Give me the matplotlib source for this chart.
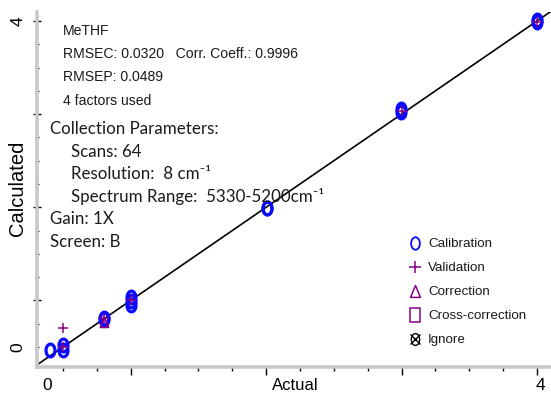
import matplotlib
matplotlib.use('Agg')
import matplotlib.pyplot as plt
from matplotlib import font_manager
from matplotlib.path import Path
from matplotlib.transforms import Affine2D
from matplotlib.lines import Line2D

# ---------------- data ----------------
cal_actual = [-0.11, 0.0, 0.0, 0.35, 0.35, 0.574, 0.574, 0.574, 1.72, 1.72, 2.85, 2.85, 4.0, 4.0]
cal_calc = [-0.04, 0.02, -0.04, 0.36, 0.34, 0.61, 0.57, 0.52, 1.71, 1.70, 2.92, 2.88, 4.01, 3.99]
val_actual = [0.0, 0.0, 0.35, 0.574, 2.86, 4.0]
val_calc = [0.23, 0.0, 0.36, 0.58, 2.89, 3.99]
corr_actual = [0.35]
corr_calc = [0.31]

major_ticks = [4 / 7, 12 / 7, 20 / 7, 4.0]
minor_ticks = [k * 2 / 7 for k in range(15) if k not in (2, 6, 10, 14)]

x_tick_labels = ["0", "4"]
y_tick_labels = ["0", "4"]
x_label = "Actual"
y_label = "Calculated"

info_lines = ["MeTHF", "RMSEC: 0.0320   Corr. Coeff.: 0.9996", "RMSEP: 0.0489", "4 factors used"]
param_lines = [("Collection Parameters:", 0), ("Scans: 64", 1), ("Resolution:  8 cm\u207b\u00b9", 1),
               ("Spectrum Range:  5330-5200cm\u207b\u00b9", 1), ("Gain: 1X", 0), ("Screen: B", 0)]
legend_labels = ["Calibration", "Validation", "Correction", "Cross-correction", "Ignore"]

BLUE = "#0a0aff"
PURPLE = "#880088"

names = {f.name for f in font_manager.fontManager.ttflist}
if 'Liberation Sans Narrow' in names:
    small_font, small_size, info_size = ['Liberation Sans Narrow', 'DejaVu Sans'], 11.3, 11.8
else:
    small_font, small_size, info_size = ['Liberation Sans', 'DejaVu Sans'], 9.6, 10.1
big_font = ['Lato', 'DejaVu Sans']

W, H = 551, 397
fig = plt.figure(figsize=(W / 100, H / 100), dpi=100)
ax = fig.add_axes([37 / W, 1 - 367 / H, (551 - 37) / W, (367 - 12) / H])
ax.set_xlim(-0.2194, 4.118)
ax.set_ylim(-0.2454, 4.110)

for s in ('top', 'right'):
    ax.spines[s].set_visible(False)
for s in ('left', 'bottom'):
    ax.spines[s].set_color('#c8c8c8')
    ax.spines[s].set_linewidth(2.6)

ax.set_xticks(major_ticks)
ax.set_xticks(minor_ticks, minor=True)
ax.set_yticks(major_ticks)
ax.set_yticks(minor_ticks, minor=True)
ax.set_xticklabels([])
ax.set_yticklabels([])
ax.tick_params(axis='x', which='major', direction='out', length=5.5, width=1, color='black')
ax.tick_params(axis='x', which='minor', direction='out', length=3, width=1, color='black')
ax.tick_params(axis='y', which='major', direction='inout', length=6, width=1, color='black')
ax.tick_params(axis='y', which='minor', direction='inout', length=3, width=1, color='black')

# identity line
ax.axline((0, 0), slope=1, color='black', lw=1.2, zorder=2)

# marker shapes
oval = Path.unit_circle().transformed(Affine2D().scale(0.7, 1.0))
rect = Path([(-0.35, -0.5), (0.35, -0.5), (0.35, 0.5), (-0.35, 0.5), (-0.35, -0.5)],
            [Path.MOVETO, Path.LINETO, Path.LINETO, Path.LINETO, Path.CLOSEPOLY])
tri = Path([(-0.42, -0.5), (0.42, -0.5), (0.0, 0.5), (-0.42, -0.5)],
           [Path.MOVETO, Path.LINETO, Path.LINETO, Path.CLOSEPOLY])

ax.plot(cal_actual, cal_calc, linestyle='none', marker=oval, markersize=9.2,
        markerfacecolor='none', markeredgecolor=BLUE, markeredgewidth=2.3, zorder=3)
ax.plot(corr_actual, corr_calc, linestyle='none', marker=tri, markersize=7,
        markerfacecolor='none', markeredgecolor=PURPLE, markeredgewidth=1.3, zorder=4)
ax.plot(val_actual, val_calc, linestyle='none', marker='+', markersize=7.5,
        markeredgecolor=PURPLE, markeredgewidth=1.1, zorder=5)

# tick labels and axis labels
fig.text(47 / W, 1 - 385 / H, x_tick_labels[0], ha='center', va='center',
         family='Liberation Sans', fontsize=12.5)
fig.text(540 / W, 1 - 385 / H, x_tick_labels[1], ha='center', va='center',
         family='Liberation Sans', fontsize=12.5)
fig.text(295 / W, 1 - 385 / H, x_label, ha='center', va='center',
         family='Liberation Sans', fontsize=12)
fig.text(18 / W, 1 - 347 / H, y_tick_labels[0], ha='center', va='center', rotation=90,
         family='Liberation Sans', fontsize=12.5)
fig.text(18 / W, 1 - 21 / H, y_tick_labels[1], ha='center', va='center', rotation=90,
         family='Liberation Sans', fontsize=12.5)
fig.text(18 / W, 1 - 188 / H, y_label, ha='center', va='center', rotation=90,
         family='Liberation Sans', fontsize=14.5)

# info block
for i, t in enumerate(info_lines):
    fig.text(63 / W, 1 - (31 + 23.2 * i) / H, t, ha='left', va='center',
             family=small_font, fontsize=info_size, color='#1a1a1a')

# parameter block
for i, (t, indent) in enumerate(param_lines):
    fig.text((50 + 21 * indent) / W, 1 - (129 + 22.6 * i) / H, t, ha='left', va='center',
             family=big_font, fontsize=12.2, color='#1a1a1a')

# legend (drawn manually)
leg_y = [243, 267, 291, 315, 339]
styles = [
    dict(marker=oval, markersize=9, markerfacecolor='none', markeredgecolor=BLUE, markeredgewidth=1.3),
    dict(marker='+', markersize=8, markeredgecolor=PURPLE, markeredgewidth=1.1),
    dict(marker=tri, markersize=8.5, markerfacecolor='none', markeredgecolor=PURPLE, markeredgewidth=1.1),
    dict(marker=rect, markersize=9.5, markerfacecolor='none', markeredgecolor=PURPLE, markeredgewidth=1.1),
    dict(marker=oval, markersize=8.5, markerfacecolor='none', markeredgecolor='black', markeredgewidth=1.0),
]
for yy, st, lab in zip(leg_y, styles, legend_labels):
    fig.add_artist(Line2D([415 / W], [1 - yy / H], linestyle='none', transform=fig.transFigure, **st))
    fig.text(428 / W, 1 - (yy + 1) / H, lab, ha='left', va='center',
             family=small_font, fontsize=small_size, color='#1a1a1a')
fig.add_artist(Line2D([415 / W], [1 - 339 / H], linestyle='none', transform=fig.transFigure,
                      marker='x', markersize=6.5, markeredgecolor='black', markeredgewidth=1.0))

fig.savefig('out.png', dpi=100)
